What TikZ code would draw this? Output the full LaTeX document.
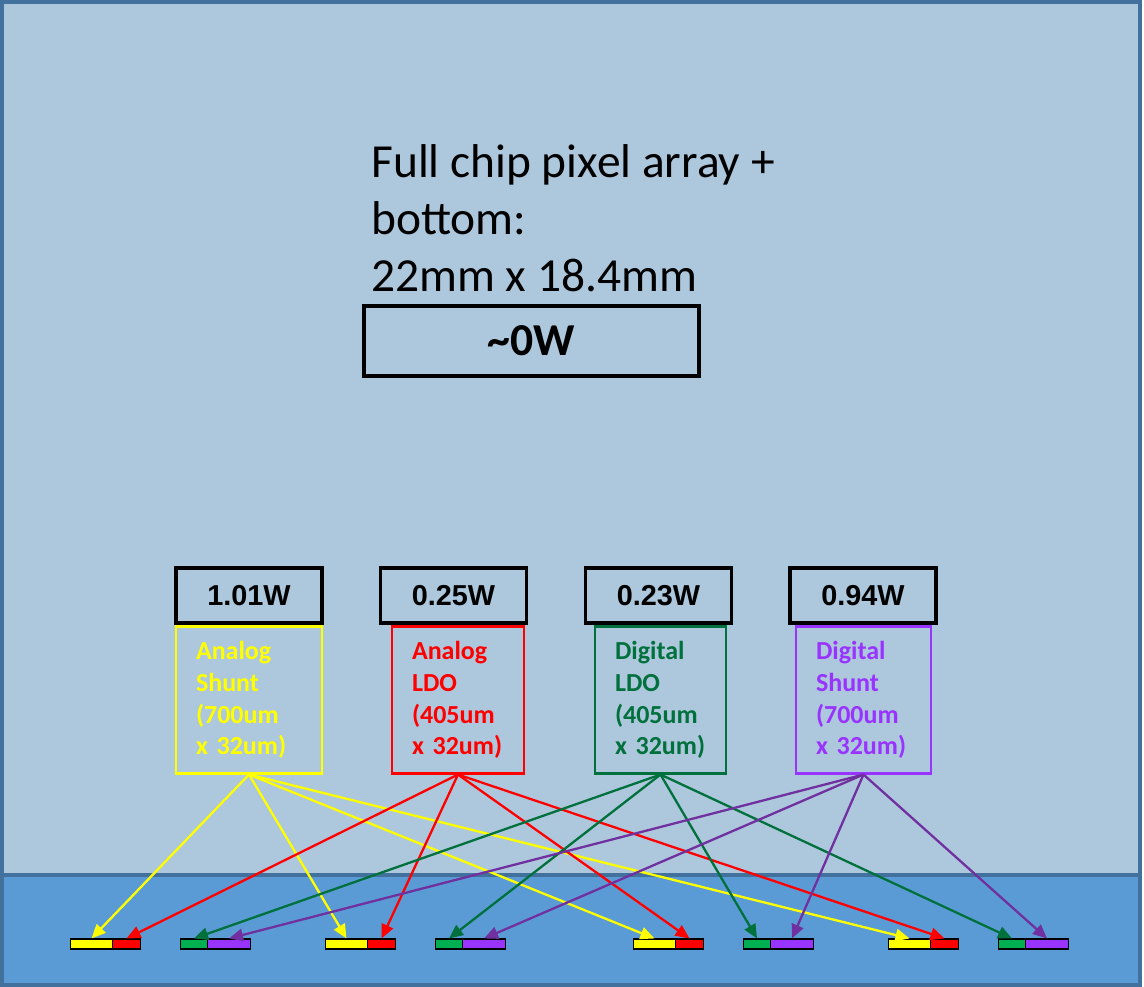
\documentclass[tikz,border=0pt]{standalone}
\usepackage{fontspec}
\setmainfont{Carlito}
\newfontfamily\arialb{Liberation Sans}
\usetikzlibrary{arrows.meta}
\definecolor{bgl}{RGB}{173,199,220}
\definecolor{bgd}{RGB}{91,155,213}
\definecolor{frm}{RGB}{65,113,156}
\definecolor{yel}{RGB}{255,255,0}
\definecolor{rd}{RGB}{255,0,0}
\definecolor{dg}{RGB}{0,112,60}
\definecolor{lg}{RGB}{0,176,80}
\definecolor{pu}{RGB}{153,51,255}
\definecolor{dpu}{RGB}{112,48,160}
\begin{document}
\begin{tikzpicture}[x=0.02cm,y=-0.02cm,
  pwr/.style={draw=black, line width=2pt, minimum width=2.92cm, minimum height=1.1cm, inner sep=0, font=\arialb\fontsize{16.4}{19}\selectfont\bfseries},
  reg/.style={line width=1.2pt, align=left, inner xsep=0.4cm, inner ysep=0, minimum height=2.94cm, font=\fontsize{14.8}{18.1}\selectfont\bfseries},
  pad/.style={draw=black, line width=0.6pt, minimum height=0.2cm, inner sep=0, anchor=west},
  arr/.style={line width=1.3pt, -{Triangle[length=8pt,width=7pt]}},
  title/.style={anchor=base west, inner sep=0, font=\fontsize{27}{32}\selectfont}
]
\useasboundingbox (0,0) rectangle (1144,987);
\fill[white] (0,0) rectangle (1144,987);
\draw[frm, line width=2.2pt, fill=bgl] (2,2) rectangle (1140,875);
\draw[frm, line width=2.2pt, fill=bgd] (2,875) rectangle (1140,985);

\node[title] (t1) at (371,177) {Full chip pixel array +};
\node[title] (t2) at (371,234) {bottom:};
\node[title] (t3) at (371,291) {22mm x 18.4mm};
\node[draw=black, line width=2pt, minimum width=6.7cm, minimum height=1.4cm, inner sep=0, font=\fontsize{26}{30}\selectfont\bfseries] (zero) at (531.5,341) {\textasciitilde0W};

\node[pwr] (p1) at (249,595.5) {1.01W};
\node[pwr] (p2) at (453.5,595.5) {0.25W};
\node[pwr] (p3) at (658.5,595.5) {0.23W};
\node[pwr] (p4) at (863,595.5) {0.94W};

\node[reg, draw=yel, text=yel, text width=2.12cm] (ys) at (249,700) {Analog\\Shunt\\(700um\\x 32um)};
\node[reg, draw=rd, text=rd, text width=1.84cm] (rl) at (458,700) {Analog\\LDO\\(405um\\x 32um)};
\node[reg, draw=dg, text=dg, text width=1.82cm] (gl) at (660.5,700) {Digital\\LDO\\(405um\\x 32um)};
\node[reg, draw=pu, text=pu, text width=1.9cm] (ps) at (863.5,700) {Digital\\Shunt\\(700um\\x 32um)};

% pads
\node[pad, fill=yel, minimum width=0.84cm] (ya) at (70,944) {};
\node[pad, fill=rd, minimum width=0.56cm] (ra) at (112,944) {};
\node[pad, fill=lg, minimum width=0.54cm] (ga) at (180,944) {};
\node[pad, fill=pu, minimum width=0.86cm] (pa) at (207,944) {};
\node[pad, fill=yel, minimum width=0.84cm] (yb) at (325,944) {};
\node[pad, fill=rd, minimum width=0.56cm] (rb) at (367,944) {};
\node[pad, fill=lg, minimum width=0.54cm] (gb) at (435,944) {};
\node[pad, fill=pu, minimum width=0.86cm] (pb) at (462,944) {};
\node[pad, fill=yel, minimum width=0.84cm] (yc) at (633,944) {};
\node[pad, fill=rd, minimum width=0.56cm] (rc) at (675,944) {};
\node[pad, fill=lg, minimum width=0.54cm] (gc) at (743,944) {};
\node[pad, fill=pu, minimum width=0.86cm] (pc) at (770,944) {};
\node[pad, fill=yel, minimum width=0.84cm] (yd) at (888,944) {};
\node[pad, fill=rd, minimum width=0.56cm] (rd) at (930,944) {};
\node[pad, fill=lg, minimum width=0.54cm] (gd) at (998,944) {};
\node[pad, fill=pu, minimum width=0.86cm] (pd) at (1025,944) {};

% text inside the regulator boxes is shifted slightly down
\begin{scope}[every node/.append style={}]
\end{scope}

% arrows
\foreach \t in {ya,yb,yc,yd} \draw[arr, yel] (ys.south) -- (\t.north);
\foreach \t in {ra,rb,rc,rd} \draw[arr, rd] (rl.south) -- (\t.north);
\foreach \t in {ga,gb,gc,gd} \draw[arr, dg] (gl.south) -- (\t.north);
\foreach \t in {pa,pb,pc,pd} \draw[arr, dpu] (ps.south) -- (\t.north);
\end{tikzpicture}
\end{document}
